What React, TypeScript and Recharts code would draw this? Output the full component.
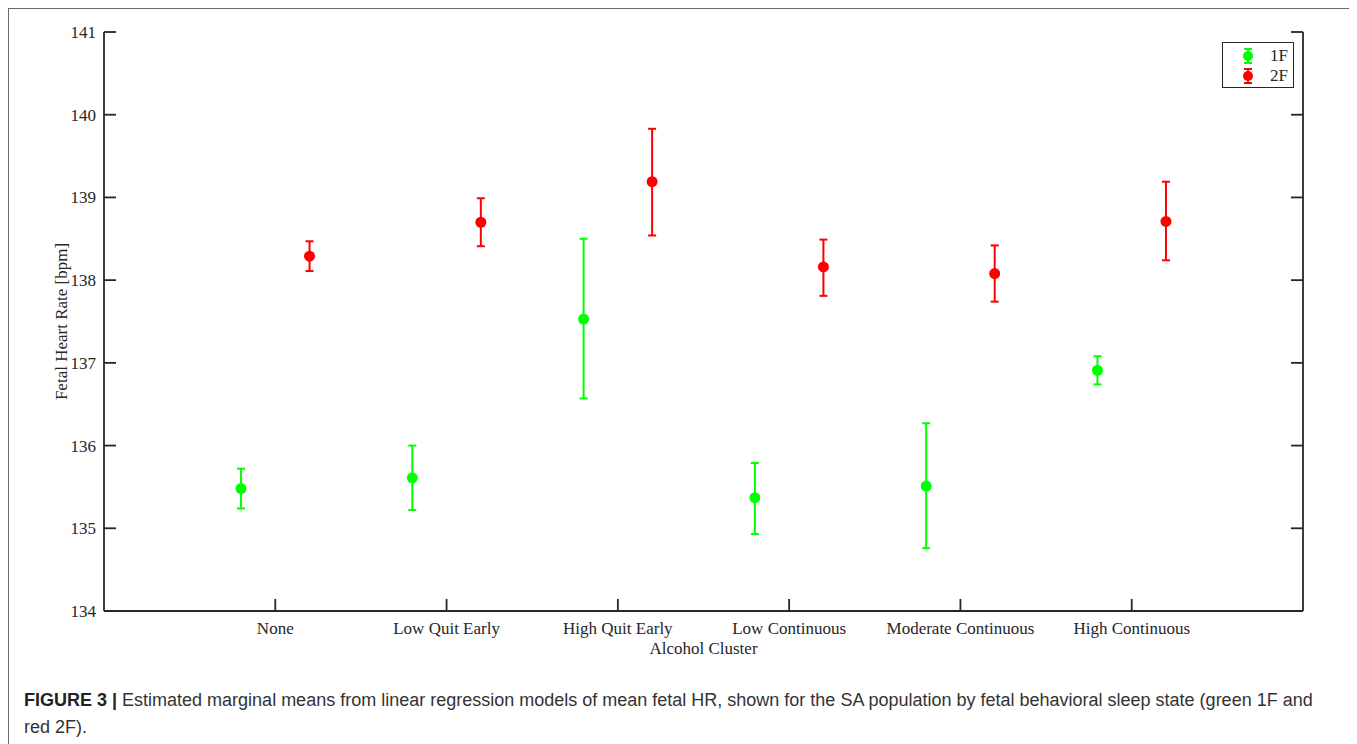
import React from 'react';
import { ComposedChart, Scatter, XAxis, YAxis, ErrorBar, Legend } from 'recharts';

const categories = ['None', 'Low Quit Early', 'High Quit Early', 'Low Continuous', 'Moderate Continuous', 'High Continuous'];
const positions = [1, 2, 3, 4, 5, 6];
const mean1F = [135.48, 135.61, 137.53, 135.37, 135.51, 136.91];
const lower1F = [135.24, 135.22, 136.57, 134.93, 134.76, 136.74];
const upper1F = [135.72, 136.0, 138.5, 135.79, 136.27, 137.08];
const mean2F = [138.29, 138.7, 139.19, 138.16, 138.08, 138.71];
const lower2F = [138.11, 138.41, 138.54, 137.81, 137.74, 138.24];
const upper2F = [138.47, 138.99, 139.83, 138.49, 138.42, 139.19];
const yTicks = [134, 135, 136, 137, 138, 139, 140, 141];
const seriesNames = ['1F', '2F'];

const GREEN = '#00ff00';
const RED = '#ff0000';
const AXIS = '#262626';
const AXIS_W = 1.8;
const TICK_LEN = 12;
const FS = 17;
const SERIF = '"Liberation Serif", "Times New Roman", serif';
const SANS = '"Liberation Sans", Arial, Helvetica, sans-serif';

const build = (means: number[], lows: number[], highs: number[], shift: number) =>
  means.map((m, i) => ({
    x: positions[i] + shift,
    y: m,
    err: [m - lows[i], highs[i] - m],
    name: categories[i],
  }));

const data1F = build(mean1F, lower1F, upper1F, -0.2);
const data2F = build(mean2F, lower2F, upper2F, 0.2);

const BOTTOM_MARGIN = 17;
const LEFT_MARGIN = 8;

const BottomTick = (props: any) => {
  const { x, y, payload } = props;
  const axisY = y - BOTTOM_MARGIN;
  return (
    <g>
      <line x1={x} x2={x} y1={axisY} y2={axisY - TICK_LEN} stroke={AXIS} strokeWidth={AXIS_W} />
      <text x={x} y={y} dy="0.35em" textAnchor="middle" fontFamily={SERIF} fontSize={FS} fill={AXIS}>
        {categories[Math.round(payload.value) - 1]}
      </text>
    </g>
  );
};

const TopTick = (props: any) => {
  const { x, y } = props;
  return <line x1={x} x2={x} y1={y} y2={y + TICK_LEN} stroke={AXIS} strokeWidth={AXIS_W} />;
};

const LeftTick = (props: any) => {
  const { x, y, payload } = props;
  const axisX = x + LEFT_MARGIN;
  return (
    <g>
      <line x1={axisX} x2={axisX + TICK_LEN} y1={y} y2={y} stroke={AXIS} strokeWidth={AXIS_W} />
      <text x={x} y={y} dy="0.35em" textAnchor="end" fontFamily={SERIF} fontSize={FS} fill={AXIS}>
        {payload.value}
      </text>
    </g>
  );
};

const RightTick = (props: any) => {
  const { x, y } = props;
  return <line x1={x} x2={x - TICK_LEN} y1={y} y2={y} stroke={AXIS} strokeWidth={AXIS_W} />;
};

const dotShape = (color: string) => (props: any) =>
  <circle cx={props.cx} cy={props.cy} r={5.5} fill={color} stroke="none" />;

const YLabel = (props: any) => {
  const vb = props.viewBox || {};
  const cx = vb.x + 17;
  const cy = vb.y + vb.height / 2;
  return (
    <text x={cx} y={cy} transform={`rotate(-90 ${cx} ${cy})`} textAnchor="middle" dy="0.35em"
      fontFamily={SERIF} fontSize={FS} fill={AXIS}>
      Fetal Heart Rate [bpm]
    </text>
  );
};

const XLabel = (props: any) => {
  const vb = props.viewBox || {};
  const cx = vb.x + vb.width / 2;
  const cy = vb.y + 37;
  return (
    <text x={cx} y={cy} textAnchor="middle" dy="0.35em" fontFamily={SERIF} fontSize={FS} fill={AXIS}>
      Alcohol Cluster
    </text>
  );
};

const LegendMarker = ({ color }: { color: string }) => (
  <svg width={16} height={18} style={{ display: 'block' }}>
    <line x1={8} x2={8} y1={2} y2={16} stroke={color} strokeWidth={2} />
    <line x1={4} x2={12} y1={2} y2={2} stroke={color} strokeWidth={2} />
    <line x1={4} x2={12} y1={16} y2={16} stroke={color} strokeWidth={2} />
    <circle cx={8} cy={9} r={5} fill={color} />
  </svg>
);

const renderLegend = () => (
  <div style={{
    border: `${AXIS_W}px solid ${AXIS}`, background: '#fff', width: 72, height: 46,
    boxSizing: 'border-box', padding: '3px 0 0 0',
  }}>
    {seriesNames.map((n, i) => (
      <div key={n} style={{ display: 'flex', alignItems: 'center', height: 20 }}>
        <div style={{ marginLeft: 17 }}><LegendMarker color={i === 0 ? GREEN : RED} /></div>
        <span style={{ marginLeft: 14, fontFamily: SERIF, fontSize: FS, color: AXIS, lineHeight: '20px' }}>{n}</span>
      </div>
    ))}
  </div>
);

export default function App() {
  return (
    <div style={{
      position: 'relative', width: 1344, height: 745, border: '1px solid #6b6b6b', background: '#fff',
    }}>
      <div style={{ position: 'absolute', left: 0, top: 0 }}>
        <ComposedChart width={1340} height={660} margin={{ top: 23, right: 45, bottom: 8, left: 35 }}>
          <XAxis dataKey="x" type="number" domain={[0, 7]} ticks={positions} interval={0}
            allowDataOverflow height={50} tickSize={0} tickMargin={BOTTOM_MARGIN} tickLine={false}
            axisLine={{ stroke: AXIS, strokeWidth: AXIS_W }} tick={BottomTick} label={<XLabel />} />
          <XAxis xAxisId="top" orientation="top" type="number" domain={[0, 7]} ticks={positions}
            interval={0} allowDataOverflow height={0} tickSize={0} tickMargin={0} tickLine={false}
            axisLine={{ stroke: AXIS, strokeWidth: AXIS_W }} tick={TopTick} />
          <YAxis dataKey="y" type="number" domain={[134, 141]} ticks={yTicks} interval={0}
            allowDataOverflow width={60} tickSize={0} tickMargin={LEFT_MARGIN} tickLine={false}
            axisLine={{ stroke: AXIS, strokeWidth: AXIS_W }} tick={LeftTick} label={<YLabel />} />
          <YAxis yAxisId="right" orientation="right" type="number" domain={[134, 141]} ticks={yTicks}
            interval={0} allowDataOverflow width={1} tickSize={0} tickMargin={0} tickLine={false}
            axisLine={{ stroke: AXIS, strokeWidth: AXIS_W }} tick={RightTick} />
          <Legend layout="vertical" align="center" verticalAlign="middle" content={renderLegend}
            wrapperStyle={{ position: 'absolute', top: 33, left: 1213, width: 'auto', height: 'auto' }} />
          <Scatter name="1F" data={data1F} fill={GREEN} shape={dotShape(GREEN)} isAnimationActive={false}>
            <ErrorBar dataKey="err" direction="y" width={4} strokeWidth={2} stroke={GREEN} isAnimationActive={false} />
          </Scatter>
          <Scatter name="2F" data={data2F} fill={RED} shape={dotShape(RED)} isAnimationActive={false}>
            <ErrorBar dataKey="err" direction="y" width={4} strokeWidth={2} stroke={RED} isAnimationActive={false} />
          </Scatter>
        </ComposedChart>
      </div>
      <div style={{
        position: 'absolute', left: 15, top: 678, fontFamily: SANS, fontSize: 18, lineHeight: '27px',
        color: '#333', whiteSpace: 'nowrap',
      }}>
        <b style={{ color: '#222' }}>FIGURE 3 |</b> Estimated marginal means from linear regression models of mean fetal HR, shown for the SA population by fetal behavioral sleep state (green 1F and
        <br />
        red 2F).
      </div>
    </div>
  );
}
